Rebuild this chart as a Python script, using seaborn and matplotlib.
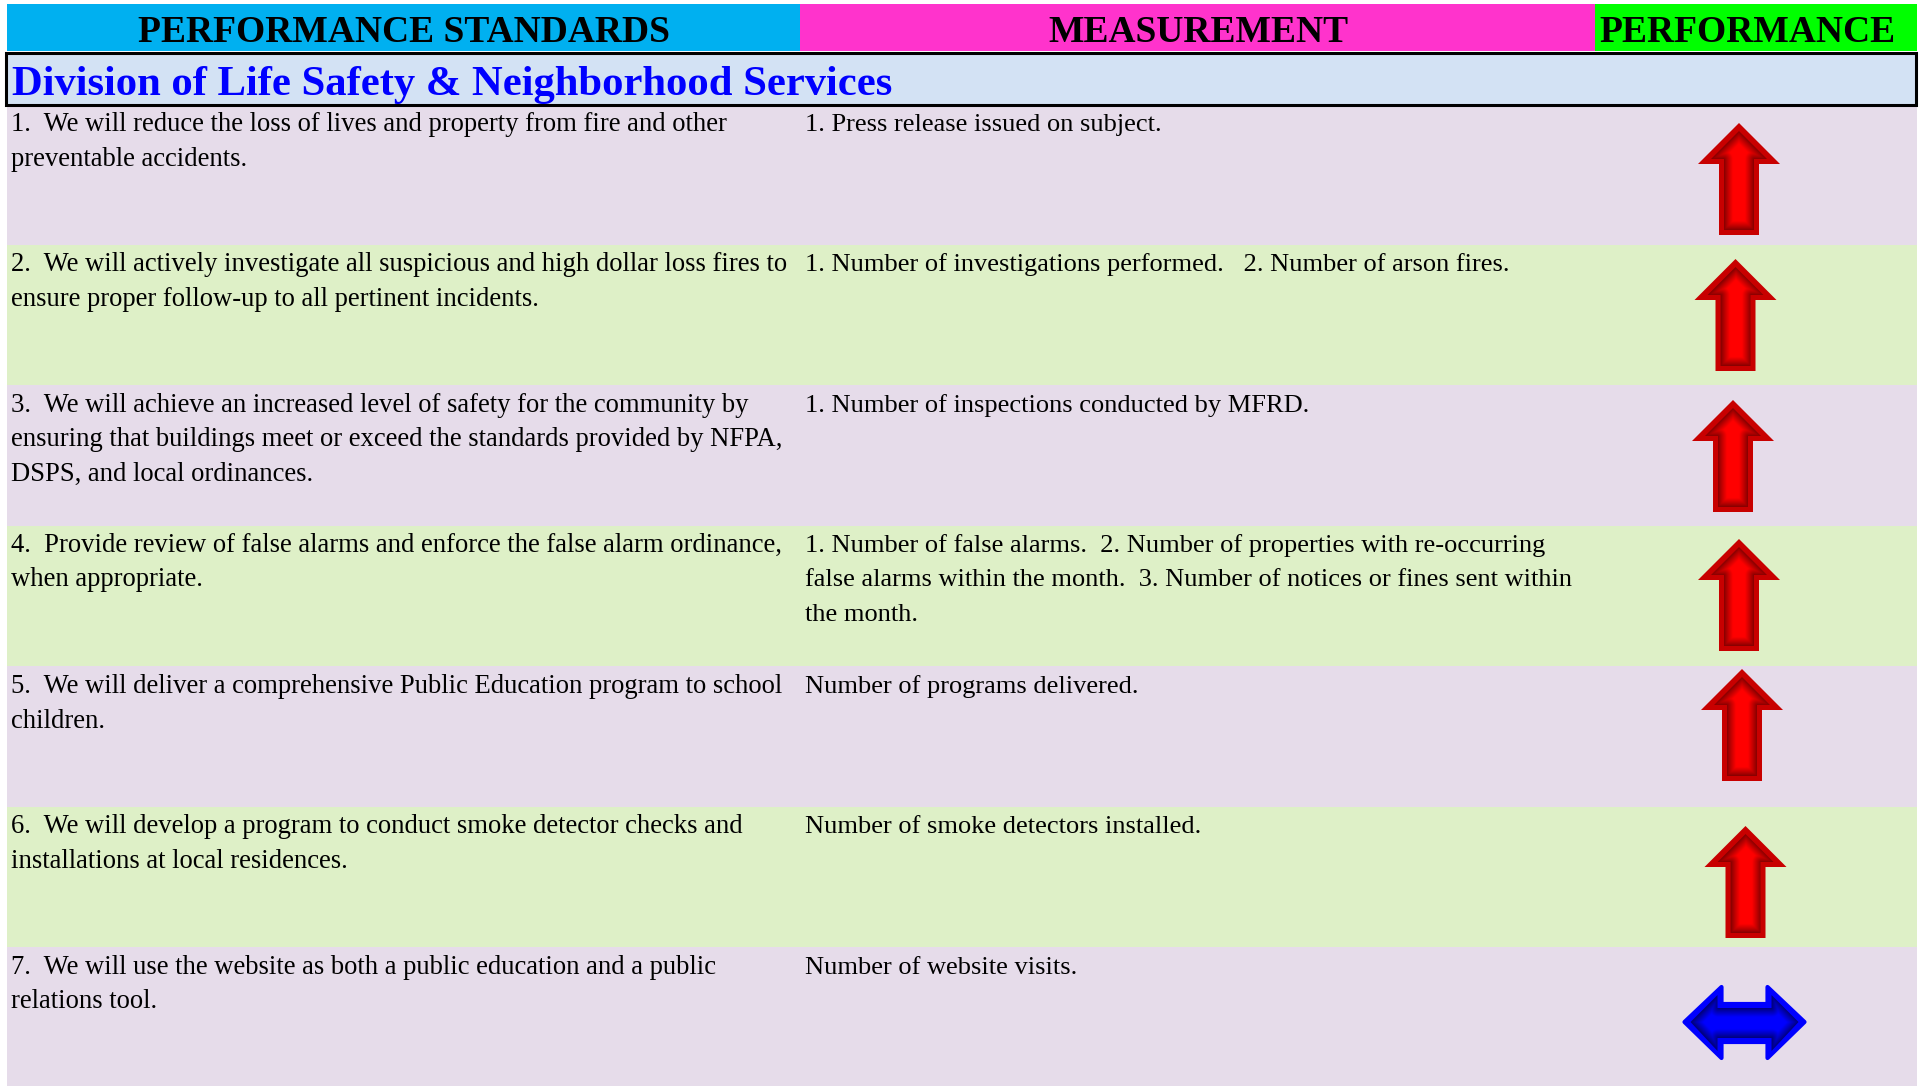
import numpy as np
import matplotlib
matplotlib.use('Agg')
import matplotlib.pyplot as plt
from matplotlib.patches import Polygon, Rectangle
from matplotlib.colors import LinearSegmentedColormap
import seaborn as sns

headers = ['PERFORMANCE STANDARDS', 'MEASUREMENT', 'PERFORMANCE']
header_colors = ['#00b0f0', '#ff33cc', '#00ff00']
division = 'Division of Life Safety & Neighborhood Services'

standards = [
    ['1.  We will reduce the loss of lives and property from fire and other', 'preventable accidents.'],
    ['2.  We will actively investigate all suspicious and high dollar loss fires to', 'ensure proper follow-up to all pertinent incidents.'],
    ['3.  We will achieve an increased level of safety for the community by', 'ensuring that buildings meet or exceed the standards provided by NFPA,', 'DSPS, and local ordinances.'],
    ['4.  Provide review of false alarms and enforce the false alarm ordinance,', 'when appropriate.'],
    ['5.  We will deliver a comprehensive Public Education program to school', 'children.'],
    ['6.  We will develop a program to conduct smoke detector checks and', 'installations at local residences.'],
    ['7.  We will use the website as both a public education and a public', 'relations tool.'],
]
measurements = [
    ['1. Press release issued on subject.'],
    ['1. Number of investigations performed.   2. Number of arson fires.'],
    ['1. Number of inspections conducted by MFRD.'],
    ['1. Number of false alarms.  2. Number of properties with re-occurring', 'false alarms within the month.  3. Number of notices or fines sent within', 'the month.'],
    ['Number of programs delivered.'],
    ['Number of smoke detectors installed.'],
    ['Number of website visits.'],
]
performance = ['up', 'up', 'up', 'up', 'up', 'up', 'both']

# layout in pixels of the 1923x1086 picture
col_edges = [7, 800, 1595, 1917]
row_edges = [106, 245, 385, 526, 666, 807, 947, 1086]
row_colors = ['#e6dcea', '#def0c7']
text_base = [131, 271, 412, 552, 693, 833, 974]
arrow_cx = [1739, 1735.5, 1733, 1739, 1742, 1745.5, 1744.5]
arrow_top = [123, 259, 400, 539, 669, 826, 985]

sns.set_theme(style='white')
plt.rcParams['font.family'] = ['Liberation Serif', 'DejaVu Serif']

fig = plt.figure(figsize=(19.23, 10.86), dpi=100)
ax = fig.add_axes([0, 0, 1, 1])


def cell(x0, x1, y0, y1, color):
    sns.barplot(x=[x1 - x0], y=[(y0 + y1) / 2], left=x0, width=y1 - y0, orient='h',
                native_scale=True, color=color, saturation=1, linewidth=0, ax=ax)


def arrow_shape(kind, cx, top):
    if kind == 'up':
        return [(cx, top), (cx + 41, top + 41), (cx + 20, top + 41), (cx + 20, top + 112),
                (cx - 20, top + 112), (cx - 20, top + 41), (cx - 41, top + 41)]
    # pulled in by a pixel, the rounded edge line takes it back out
    return [(cx - 60, top + 37), (cx - 23, top + 2), (cx - 23, top + 19), (cx + 23, top + 19),
            (cx + 23, top + 2), (cx + 60, top + 37), (cx + 23, top + 73), (cx + 23, top + 57),
            (cx - 23, top + 57), (cx - 23, top + 73)]


def inset_shape(kind, cx, top):
    if kind == 'up':
        return [(cx, top + 8), (cx + 28, top + 36), (cx + 15, top + 36), (cx + 15, top + 107),
                (cx - 15, top + 107), (cx - 15, top + 36), (cx - 28, top + 36)]
    return [(cx - 54, top + 37), (cx - 27, top + 10), (cx - 27, top + 23), (cx + 27, top + 23),
            (cx + 27, top + 10), (cx + 54, top + 37), (cx + 27, top + 66), (cx + 27, top + 53),
            (cx - 27, top + 53), (cx - 27, top + 66)]


def edge_distance(pts, xx, yy):
    pts = np.array(pts, dtype=float)
    best = np.full(xx.shape, np.inf)
    for a, b in zip(pts, np.roll(pts, -1, axis=0)):
        d = b - a
        t = np.clip(((xx - a[0]) * d[0] + (yy - a[1]) * d[1]) / (d @ d), 0, 1)
        best = np.minimum(best, np.hypot(xx - a[0] - t * d[0], yy - a[1] - t * d[1]))
    return best


def draw_arrow(kind, cx, top):
    outer = arrow_shape(kind, cx, top)
    inner = inset_shape(kind, cx, top)
    if kind == 'up':
        edge, dark, bright, lw = '#c80000', '#840000', '#ff0000', 0
    else:
        edge, dark, bright, lw = '#0000ff', '#000078', '#0000ff', 3
    ax.add_patch(Polygon(outer, closed=True, facecolor=edge, edgecolor=edge, linewidth=lw,
                         joinstyle='round', zorder=3))
    xs = np.array([p[0] for p in outer])
    ys = np.array([p[1] for p in outer])
    x0, x1, y0, y1 = xs.min(), xs.max(), ys.min(), ys.max()
    xx, yy = np.meshgrid(np.linspace(x0, x1, 2 * int(x1 - x0)), np.linspace(y0, y1, 2 * int(y1 - y0)))
    shade = np.clip(edge_distance(inner, xx, yy) / 9, 0, 1) ** 0.9
    cmap = LinearSegmentedColormap.from_list('shade', [dark, bright])
    im = ax.imshow(shade, extent=(x0, x1, y1, y0), cmap=cmap, vmin=0, vmax=1,
                   aspect='auto', zorder=4, interpolation='bilinear')
    im.set_clip_path(Polygon(inner, closed=True, transform=ax.transData))


# header cells
for i, name in enumerate(headers):
    cell(col_edges[i], col_edges[i + 1], 4, 51, header_colors[i])
header_x = [404, 1198, 1747]
for name, x in zip(headers, header_x):
    ax.text(x, 42, name, ha='center', va='baseline', fontsize=27, fontweight='bold', color='black', zorder=5)

# division band
cell(col_edges[0], col_edges[-1], 52, 105, '#d3e2f4')
ax.add_patch(Rectangle((5.5, 52.5), 1910, 52, fill=False, edgecolor='black', linewidth=2.2, zorder=5))
ax.text(12, 95, division, ha='left', va='baseline', fontsize=30.7, fontweight='bold', color='#0000ff', zorder=5)

# rows
for i in range(len(standards)):
    y0, y1 = row_edges[i], row_edges[i + 1]
    cell(col_edges[0], col_edges[-1], y0, y1, row_colors[i % 2])
    for j, line in enumerate(standards[i]):
        ax.text(11.2, text_base[i] + 34.2 * j + 0.3, line, ha='left', va='baseline', fontsize=19.15, color='black', zorder=5)
    for j, line in enumerate(measurements[i]):
        ax.text(805, text_base[i] + 34.2 * j + 0.3, line, ha='left', va='baseline', fontsize=19.03, color='black', zorder=5)
    draw_arrow(performance[i], arrow_cx[i], arrow_top[i])

ax.set_xlim(0, 1923)
ax.set_ylim(1086, 0)
ax.axis('off')
fig.savefig('out.png', dpi=100, facecolor='white')
